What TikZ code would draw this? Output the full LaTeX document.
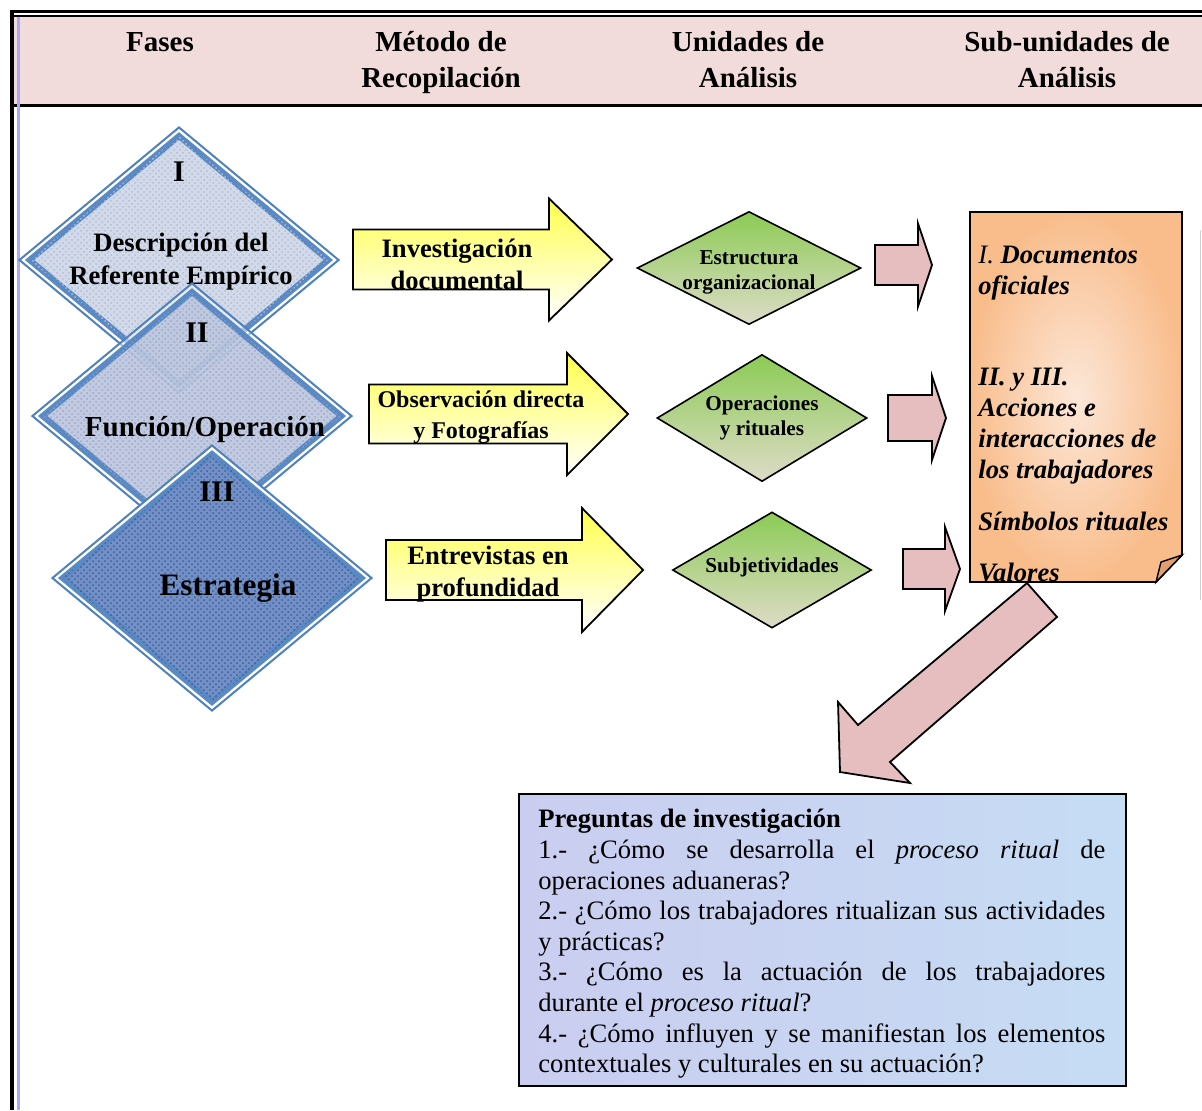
\documentclass[tikz,border=0pt]{standalone}
\usepackage{fontspec}
\setmainfont{Liberation Serif}
\usetikzlibrary{
    shapes.geometric,
    patterns
}

\definecolor{headpink}{HTML}{F2DCDB}
\definecolor{lavline}{HTML}{A9A9F2}
\definecolor{phaseblue}{HTML}{4F81BD}
\definecolor{innerblue}{HTML}{5A89C4}
\definecolor{ph1fill}{HTML}{D2D9E8}
\definecolor{ph1dot}{HTML}{B3BFD6}
\definecolor{ph2fill}{HTML}{B7C2DB}
\definecolor{ph2dot}{HTML}{95A5C8}
\definecolor{ph3fill}{HTML}{7390C6}
\definecolor{ph3dot}{HTML}{3F5E9C}
\definecolor{arrowyellow}{HTML}{FFFF4D}
\definecolor{greentop}{HTML}{8CCB55}
\definecolor{greenbot}{HTML}{DEDBC8}
\definecolor{pinkfill}{HTML}{E7BEBF}
\definecolor{orangeout}{HTML}{F9BD8C}
\definecolor{orangein}{HTML}{FCE7D8}
\definecolor{foldorange}{HTML}{E2A06C}
\definecolor{qleft}{HTML}{CACDF0}
\definecolor{qright}{HTML}{C6DCF4}

\tikzset{
    headtxt/.style={font=\bfseries\fontsize{14.5}{18}\selectfont, align=center, inner sep=0pt},
    phaseout/.style={shape=diamond, draw=phaseblue, line width=1pt, fill=white,
        minimum width=160pt, minimum height=133pt, inner sep=0pt},
    phasein/.style={shape=diamond, draw=innerblue, line width=3pt,
        minimum width=150.6pt, minimum height=125.2pt, inner sep=0pt},
    numtxt/.style={font=\bfseries\fontsize{15}{18}\selectfont, inner sep=0pt},
    phasetxt/.style={font=\bfseries\fontsize{13.3}{16.5}\selectfont, align=center, inner sep=0pt},
    yarrow/.style={draw=black, line width=0.9pt, top color=arrowyellow, bottom color=white},
    methtxt/.style={font=\bfseries\fontsize{13.3}{16}\selectfont, align=center, inner sep=0pt},
    unit/.style={shape=diamond, draw=black, line width=0.8pt,
        top color=greentop, bottom color=greenbot, inner sep=0pt},
    unittxt/.style={font=\bfseries\fontsize{10.6}{12.5}\selectfont, align=center, inner sep=0pt},
    parrow/.style={draw=black, line width=0.9pt, fill=pinkfill},
    subtxt/.style={font=\bfseries\itshape\fontsize{13.3}{15.5}\selectfont, align=left, inner sep=0pt},
    qbox/.style={draw=black, line width=1pt, left color=qleft, right color=qright, inner sep=0pt},
    qtxt/.style={font=\fontsize{13.3}{15.3}\selectfont, text width=283.5pt,
        align=justify, inner sep=0pt}
}

% block arrow: style, left x, tip x, centre y, body half height, head half height, head length
\newcommand{\blockarrow}[7]{%
    \path[#1] (#2,{#4-#5}) -- ({#3-#7},{#4-#5}) -- ({#3-#7},{#4-#6}) -- (#3,#4)
        -- ({#3-#7},{#4+#6}) -- ({#3-#7},{#4+#5}) -- (#2,{#4+#5}) -- cycle;}

\begin{document}
\begin{tikzpicture}[x=0.5pt, y=-0.5pt]
    \useasboundingbox (0,0) rectangle (1202,1110);

    % frame and header
    \fill[headpink] (14,17) rectangle (1202,104);
    \draw[line width=1.5pt] (10,11) -- (1202,11);
    \draw[line width=1pt] (14,16) -- (1202,16);
    \draw[line width=1.5pt] (14,105) -- (1202,105);
    \draw[line width=2pt] (12,10) -- (12,1110);
    \draw[lavline, line width=1.5pt] (18,17) -- (18,1110);
    \draw[gray!35, line width=0.5pt] (1200,230) -- (1200,600);

    \node[headtxt] (hfases) at (160,42) {Fases};
    \node[headtxt] (hmetodo) at (441,63) {Método de\\Recopilación};
    \node[headtxt] (hunidad) at (748,60) {Unidades de\\Análisis};
    \node[headtxt] (hsub) at (1067,60) {Sub-unidades de\\Análisis};

    % phases
    \node[phaseout] (f1) at (179,260) {};
    \node[phasein, fill=ph1fill, postaction={pattern=crosshatch dots, pattern color=ph1dot}] (f1in) at (f1) {};
    \node[numtxt] (n1) at (179,172) {I};
    \node[phasetxt] (t1) at (181,262) {Descripción del\\Referente Empírico};

    \node[phaseout, fill opacity=0.5] (f2) at (192,416) {};
    \node[phasein, fill=ph2fill, fill opacity=0.85, postaction={pattern=crosshatch dots, pattern color=ph2dot}] (f2in) at (f2) {};
    \node[numtxt] (n2) at (197,333) {II};
    \node[phasetxt, font=\bfseries\fontsize{14.5}{17}\selectfont] (t2) at (205,429) {Función/Operación};

    \node[phaseout] (f3) at (212,578) {};
    \node[phasein, fill=ph3fill, postaction={pattern=crosshatch dots, pattern color=ph3dot}] (f3in) at (f3) {};
    \node[numtxt] (n3) at (217,492) {III};
    \node[phasetxt, font=\bfseries\fontsize{15.6}{18}\selectfont] (t3) at (228,588) {Estrategia};

    % methods
    \blockarrow{yarrow}{353}{612}{259.5}{30}{61}{63}
    \blockarrow{yarrow}{369}{628}{414}{29.5}{61}{61}
    \blockarrow{yarrow}{386}{643}{570}{30}{62}{61}
    \node[methtxt] (m1) at (457,264) {Investigación\\documental};
    \node[methtxt, font=\bfseries\fontsize{12}{15.5}\selectfont] (m2) at (481,417) {Observación directa\\y Fotografías};
    \node[methtxt] (m3) at (488,574) {Entrevistas en\\profundidad};

    % units
    \node[unit, minimum width=112pt, minimum height=56.5pt] (u1) at (749,268) {};
    \node[unit, minimum width=105pt, minimum height=63.5pt] (u2) at (762,418) {};
    \node[unit, minimum width=99.5pt, minimum height=58pt] (u3) at (772,570) {};
    \node[unittxt] (ut1) at (749,272) {Estructura\\organizacional};
    \node[unittxt] (ut2) at (762,418) {Operaciones\\y rituales};
    \node[unittxt] (ut3) at (772,567) {Subjetividades};

    \blockarrow{parrow}{875}{932}{265}{20}{41.5}{14}
    \blockarrow{parrow}{888}{946}{418}{23}{42}{14}
    \blockarrow{parrow}{903}{960}{569}{20}{42}{15}

    % sub-units
    \path[draw=black, line width=0.9pt, inner color=orangein, outer color=orangeout]
        (970,212) -- (1182,212) -- (1182,555) -- (1156,582) -- (970,582) -- cycle;
    \filldraw[fill=foldorange, draw=black, line width=0.7pt] (1182,555) -- (1161,562) -- (1156,582) -- cycle;
    \node[subtxt, anchor=north west] (st) at (978,246) {\textmd{I.} Documentos\\oficiales\\[30pt]
        II. y III.\\Acciones e\\interacciones de\\los trabajadores\\[10.5pt]
        Símbolos rituales\\[10pt]Valores};

    \filldraw[parrow] (1027,583) -- (1057,617) -- (890,762) -- (910,783) -- (840,772)
        -- (838,702) -- (858,725) -- cycle;

    % questions
    \node[qbox, anchor=north west, minimum width=303.5pt, minimum height=146pt] (qb) at (518,793) {};
    \node[qtxt, anchor=north west] (qt) at (538,809) {\textbf{Preguntas de investigación}\par
        1.- ¿Cómo se desarrolla el \textit{proceso ritual} de\linebreak operaciones aduaneras?\par
        2.- ¿Cómo los trabajadores ritualizan sus actividades y prácticas?\par
        3.- ¿Cómo es la actuación de los trabajadores\linebreak durante el \textit{proceso ritual}?\par
        4.- ¿Cómo influyen y se manifiestan los elementos\linebreak contextuales y culturales en su actuación?};
\end{tikzpicture}
\end{document}
